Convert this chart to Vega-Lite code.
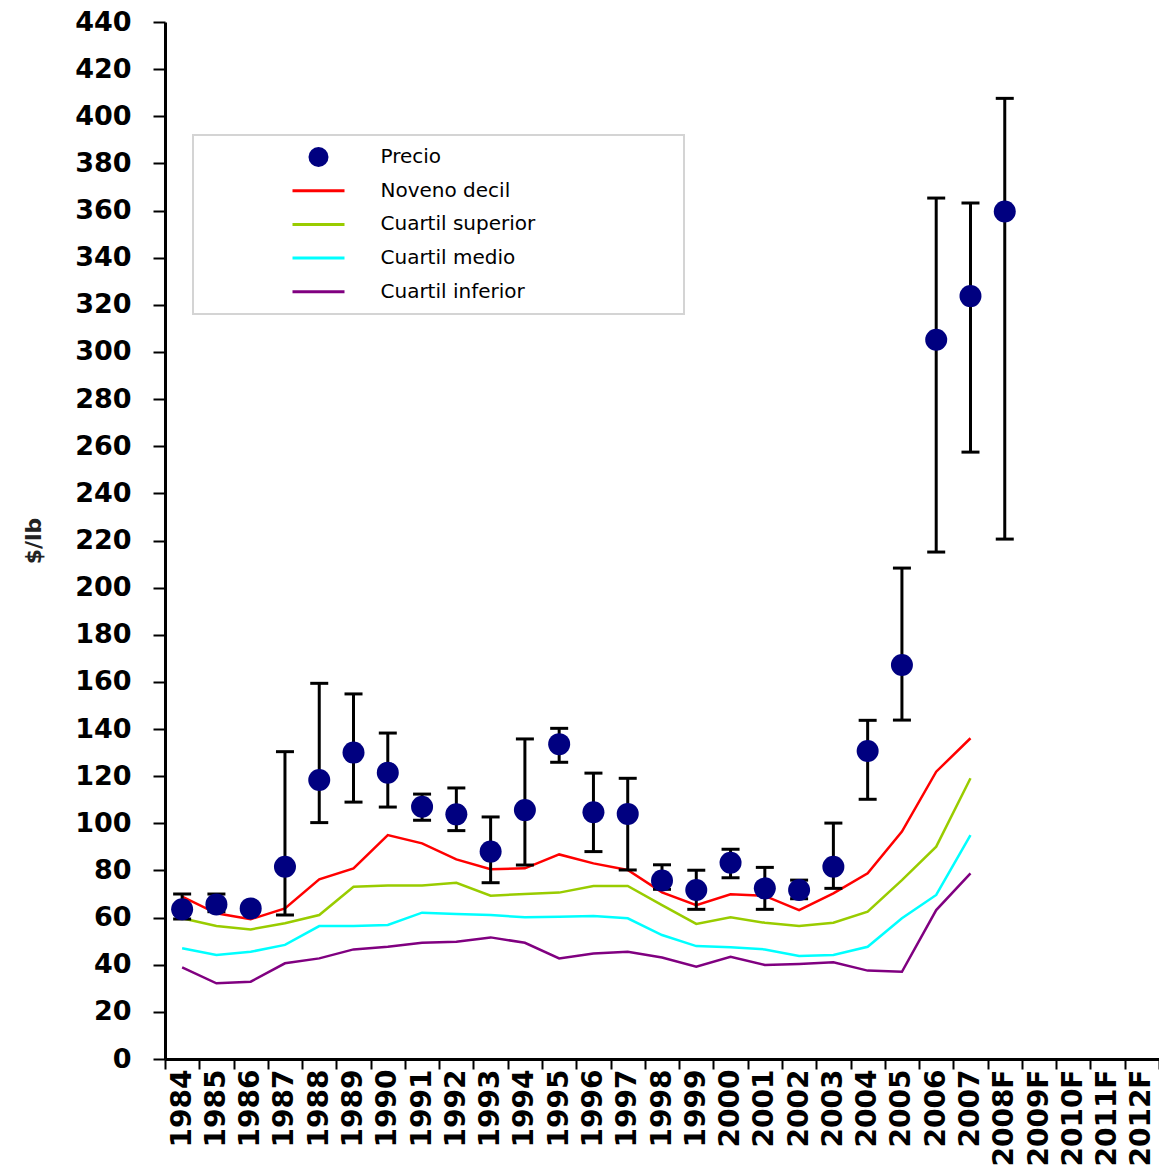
{
  "$schema": "https://vega.github.io/schema/vega-lite/v6.json",
  "width": 994,
  "height": 1037,
  "autosize": {"type": "none"},
  "padding": {"left": 165, "top": 22, "right": 0, "bottom": 117},
  "background": "white",
  "config": {
    "view": {"stroke": null},
    "font": "DejaVu Sans",
    "axis": {
      "labelFont": "DejaVu Sans",
      "labelFontWeight": "bold",
      "labelColor": "#000000",
      "tickColor": "#000000",
      "tickWidth": 2,
      "domainColor": "#000000",
      "domainWidth": 3,
      "grid": false
    },
    "axisX": {
      "labelAngle": 270,
      "labelFontSize": 28,
      "labelPadding": 0,
      "labelOverlap": false,
      "tickBand": "extent",
      "tickSize": 10
    },
    "axisY": {
      "titleFont": "DejaVu Sans",
      "titleFontSize": 22,
      "titleFontWeight": "bold",
      "titleColor": "#222222",
      "titlePadding": 29,
      "labelFontSize": 27,
      "labelPadding": 22,
      "tickSize": 12
    }
  },
  "datasets": {
    "precio": [
      {"year": "1984", "series": "Precio", "value": 63.5, "low": 59.4, "high": 70},
      {"year": "1985", "series": "Precio", "value": 65.6, "low": 62.5, "high": 70},
      {"year": "1986", "series": "Precio", "value": 63.9, "low": null, "high": null},
      {"year": "1987", "series": "Precio", "value": 81.6, "low": 61.1, "high": 130.4},
      {"year": "1988", "series": "Precio", "value": 118.4, "low": 100.3, "high": 159.4},
      {"year": "1989", "series": "Precio", "value": 130, "low": 109, "high": 154.9},
      {"year": "1990", "series": "Precio", "value": 121.5, "low": 106.9, "high": 138.3},
      {"year": "1991", "series": "Precio", "value": 107, "low": 101.3, "high": 112.4},
      {"year": "1992", "series": "Precio", "value": 103.8, "low": 96.9, "high": 115},
      {"year": "1993", "series": "Precio", "value": 88, "low": 74.8, "high": 102.7},
      {"year": "1994", "series": "Precio", "value": 105.6, "low": 82.3, "high": 135.8},
      {"year": "1995", "series": "Precio", "value": 133.6, "low": 125.9, "high": 140.3},
      {"year": "1996", "series": "Precio", "value": 104.7, "low": 88, "high": 121.3},
      {"year": "1997", "series": "Precio", "value": 104, "low": 80.2, "high": 119.1},
      {"year": "1998", "series": "Precio", "value": 75.7, "low": 72, "high": 82.4},
      {"year": "1999", "series": "Precio", "value": 71.7, "low": 63.5, "high": 80.1},
      {"year": "2000", "series": "Precio", "value": 83.3, "low": 76.9, "high": 89},
      {"year": "2001", "series": "Precio", "value": 72.4, "low": 63.5, "high": 81.3},
      {"year": "2002", "series": "Precio", "value": 71.7, "low": 68, "high": 75.9},
      {"year": "2003", "series": "Precio", "value": 81.6, "low": 72.4, "high": 100.1},
      {"year": "2004", "series": "Precio", "value": 130.7, "low": 110.2, "high": 143.7},
      {"year": "2005", "series": "Precio", "value": 167.2, "low": 143.8, "high": 208.3},
      {"year": "2006", "series": "Precio", "value": 305.2, "low": 215.1, "high": 365.3},
      {"year": "2007", "series": "Precio", "value": 323.7, "low": 257.5, "high": 363.2},
      {"year": "2008F", "series": "Precio", "value": 359.6, "low": 220.6, "high": 407.6}
    ],
    "lines": [
      {"year": "1984", "series": "Noveno decil", "value": 68.9},
      {"year": "1985", "series": "Noveno decil", "value": 61.8},
      {"year": "1986", "series": "Noveno decil", "value": 59.3},
      {"year": "1987", "series": "Noveno decil", "value": 63.9},
      {"year": "1988", "series": "Noveno decil", "value": 76.2},
      {"year": "1989", "series": "Noveno decil", "value": 80.9},
      {"year": "1990", "series": "Noveno decil", "value": 95},
      {"year": "1991", "series": "Noveno decil", "value": 91.5},
      {"year": "1992", "series": "Noveno decil", "value": 84.7},
      {"year": "1993", "series": "Noveno decil", "value": 80.5},
      {"year": "1994", "series": "Noveno decil", "value": 80.9},
      {"year": "1995", "series": "Noveno decil", "value": 86.8},
      {"year": "1996", "series": "Noveno decil", "value": 83},
      {"year": "1997", "series": "Noveno decil", "value": 80.2},
      {"year": "1998", "series": "Noveno decil", "value": 70.7},
      {"year": "1999", "series": "Noveno decil", "value": 65.3},
      {"year": "2000", "series": "Noveno decil", "value": 69.9},
      {"year": "2001", "series": "Noveno decil", "value": 69.2},
      {"year": "2002", "series": "Noveno decil", "value": 63.2},
      {"year": "2003", "series": "Noveno decil", "value": 70.3},
      {"year": "2004", "series": "Noveno decil", "value": 78.8},
      {"year": "2005", "series": "Noveno decil", "value": 96.5},
      {"year": "2006", "series": "Noveno decil", "value": 121.9},
      {"year": "2007", "series": "Noveno decil", "value": 136.1},
      {"year": "1984", "series": "Cuartil superior", "value": 59.7},
      {"year": "1985", "series": "Cuartil superior", "value": 56.4},
      {"year": "1986", "series": "Cuartil superior", "value": 55},
      {"year": "1987", "series": "Cuartil superior", "value": 57.6},
      {"year": "1988", "series": "Cuartil superior", "value": 61.1},
      {"year": "1989", "series": "Cuartil superior", "value": 73.1},
      {"year": "1990", "series": "Cuartil superior", "value": 73.6},
      {"year": "1991", "series": "Cuartil superior", "value": 73.6},
      {"year": "1992", "series": "Cuartil superior", "value": 74.8},
      {"year": "1993", "series": "Cuartil superior", "value": 69.3},
      {"year": "1994", "series": "Cuartil superior", "value": 70},
      {"year": "1995", "series": "Cuartil superior", "value": 70.6},
      {"year": "1996", "series": "Cuartil superior", "value": 73.4},
      {"year": "1997", "series": "Cuartil superior", "value": 73.4},
      {"year": "1998", "series": "Cuartil superior", "value": 65.3},
      {"year": "1999", "series": "Cuartil superior", "value": 57.3},
      {"year": "2000", "series": "Cuartil superior", "value": 60.1},
      {"year": "2001", "series": "Cuartil superior", "value": 57.8},
      {"year": "2002", "series": "Cuartil superior", "value": 56.4},
      {"year": "2003", "series": "Cuartil superior", "value": 57.8},
      {"year": "2004", "series": "Cuartil superior", "value": 62.5},
      {"year": "2005", "series": "Cuartil superior", "value": 75.9},
      {"year": "2006", "series": "Cuartil superior", "value": 90.1},
      {"year": "2007", "series": "Cuartil superior", "value": 119.1},
      {"year": "1984", "series": "Cuartil medio", "value": 47},
      {"year": "1985", "series": "Cuartil medio", "value": 44.1},
      {"year": "1986", "series": "Cuartil medio", "value": 45.5},
      {"year": "1987", "series": "Cuartil medio", "value": 48.4},
      {"year": "1988", "series": "Cuartil medio", "value": 56.4},
      {"year": "1989", "series": "Cuartil medio", "value": 56.4},
      {"year": "1990", "series": "Cuartil medio", "value": 56.9},
      {"year": "1991", "series": "Cuartil medio", "value": 62.1},
      {"year": "1992", "series": "Cuartil medio", "value": 61.5},
      {"year": "1993", "series": "Cuartil medio", "value": 61.1},
      {"year": "1994", "series": "Cuartil medio", "value": 60.1},
      {"year": "1995", "series": "Cuartil medio", "value": 60.4},
      {"year": "1996", "series": "Cuartil medio", "value": 60.7},
      {"year": "1997", "series": "Cuartil medio", "value": 59.7},
      {"year": "1998", "series": "Cuartil medio", "value": 52.6},
      {"year": "1999", "series": "Cuartil medio", "value": 47.9},
      {"year": "2000", "series": "Cuartil medio", "value": 47.4},
      {"year": "2001", "series": "Cuartil medio", "value": 46.5},
      {"year": "2002", "series": "Cuartil medio", "value": 43.7},
      {"year": "2003", "series": "Cuartil medio", "value": 44.1},
      {"year": "2004", "series": "Cuartil medio", "value": 47.6},
      {"year": "2005", "series": "Cuartil medio", "value": 59.7},
      {"year": "2006", "series": "Cuartil medio", "value": 69.6},
      {"year": "2007", "series": "Cuartil medio", "value": 95},
      {"year": "1984", "series": "Cuartil inferior", "value": 38.9},
      {"year": "1985", "series": "Cuartil inferior", "value": 32.1},
      {"year": "1986", "series": "Cuartil inferior", "value": 32.8},
      {"year": "1987", "series": "Cuartil inferior", "value": 40.6},
      {"year": "1988", "series": "Cuartil inferior", "value": 42.7},
      {"year": "1989", "series": "Cuartil inferior", "value": 46.5},
      {"year": "1990", "series": "Cuartil inferior", "value": 47.6},
      {"year": "1991", "series": "Cuartil inferior", "value": 49.3},
      {"year": "1992", "series": "Cuartil inferior", "value": 49.8},
      {"year": "1993", "series": "Cuartil inferior", "value": 51.6},
      {"year": "1994", "series": "Cuartil inferior", "value": 49.3},
      {"year": "1995", "series": "Cuartil inferior", "value": 42.7},
      {"year": "1996", "series": "Cuartil inferior", "value": 44.8},
      {"year": "1997", "series": "Cuartil inferior", "value": 45.5},
      {"year": "1998", "series": "Cuartil inferior", "value": 43.1},
      {"year": "1999", "series": "Cuartil inferior", "value": 39.2},
      {"year": "2000", "series": "Cuartil inferior", "value": 43.4},
      {"year": "2001", "series": "Cuartil inferior", "value": 39.9},
      {"year": "2002", "series": "Cuartil inferior", "value": 40.3},
      {"year": "2003", "series": "Cuartil inferior", "value": 41},
      {"year": "2004", "series": "Cuartil inferior", "value": 37.5},
      {"year": "2005", "series": "Cuartil inferior", "value": 37},
      {"year": "2006", "series": "Cuartil inferior", "value": 63.2},
      {"year": "2007", "series": "Cuartil inferior", "value": 78.8}
    ]
  },
  "encoding": {
    "x": {
      "field": "year",
      "type": "nominal",
      "title": null,
      "scale": {
        "domain": ["1984","1985","1986","1987","1988","1989","1990","1991","1992","1993","1994","1995","1996","1997","1998","1999","2000","2001","2002","2003","2004","2005","2006","2007","2008F","2009F","2010F","2011F","2012F"],
        "paddingInner": 0,
        "paddingOuter": 0
      }
    }
  },
  "layer": [
    {
      "data": {"name": "lines"},
      "mark": {"type": "line", "strokeWidth": 2.5},
      "encoding": {
        "y": {
          "field": "value",
          "type": "quantitative",
          "title": "$/lb",
          "scale": {"domain": [0, 440], "nice": false},
          "axis": {
            "values": [0,20,40,60,80,100,120,140,160,180,200,220,240,260,280,300,320,340,360,380,400,420,440]
          }
        },
        "color": {
          "field": "series",
          "type": "nominal",
          "scale": {
            "domain": ["Precio", "Noveno decil", "Cuartil superior", "Cuartil medio", "Cuartil inferior"],
            "range": ["#000080", "#ff0000", "#99cc00", "#00ffff", "#800080"]
          },
          "legend": {
            "orient": "none",
            "legendX": 28,
            "legendY": 113,
            "title": " ",
            "titleOrient": "right",
            "titlePadding": 137,
            "titleFontSize": 20,
            "padding": 12,
            "strokeColor": "#d4d4d4",
            "fillColor": "#ffffff",
            "labelFont": "DejaVu Sans",
            "labelFontSize": 20,
            "labelColor": "#000000",
            "labelLimit": 400,
            "labelOffset": 52,
            "symbolOffset": 103.5,
            "clipHeight": 20,
            "rowPadding": 13.7,
            "encode": {
              "legend": {"update": {"strokeWidth": {"value": 2}}},
              "symbols": {
                "update": {
                  "shape": {"signal": "datum.value === 'Precio' ? 'circle' : 'stroke'"},
                  "size": {"signal": "datum.value === 'Precio' ? 400 : 2704"},
                  "strokeWidth": {"signal": "datum.value === 'Precio' ? 0 : 3"},
                  "fill": {"signal": "datum.value === 'Precio' ? '#000080' : 'transparent'"},
                  "stroke": {"signal": "scale('color', datum.value)"},
                  "opacity": {"value": 1}
                }
              }
            }
          }
        }
      }
    },
    {
      "data": {"name": "precio"},
      "mark": {"type": "rule", "strokeWidth": 3, "color": "#000000"},
      "encoding": {
        "y": {"field": "low", "type": "quantitative", "title": "$/lb"},
        "y2": {"field": "high"}
      }
    },
    {
      "data": {"name": "precio"},
      "mark": {"type": "tick", "thickness": 3, "size": 18, "color": "#000000", "opacity": 1},
      "encoding": {
        "y": {"field": "low", "type": "quantitative", "title": "$/lb"}
      }
    },
    {
      "data": {"name": "precio"},
      "mark": {"type": "tick", "thickness": 3, "size": 18, "color": "#000000", "opacity": 1},
      "encoding": {
        "y": {"field": "high", "type": "quantitative", "title": "$/lb"}
      }
    },
    {
      "data": {"name": "precio"},
      "mark": {"type": "point", "filled": true, "size": 484, "opacity": 1},
      "encoding": {
        "y": {"field": "value", "type": "quantitative", "title": "$/lb"},
        "color": {"field": "series", "type": "nominal"}
      }
    }
  ]
}
